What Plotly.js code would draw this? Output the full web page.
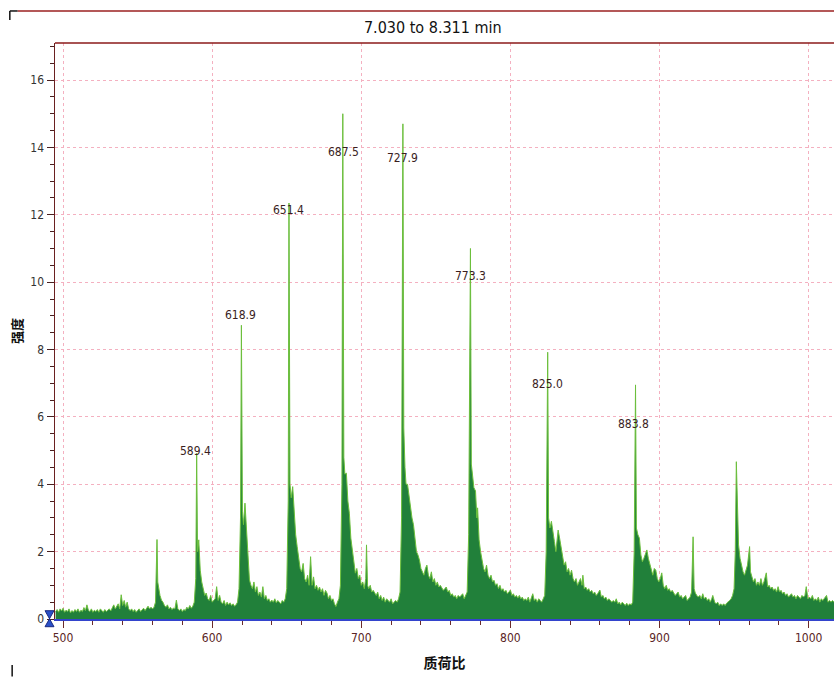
<!DOCTYPE html>
<html>
<head>
<meta charset="utf-8">
<script src="https://cdn.plot.ly/plotly-3.0.1.min.js"></script>
<style>html,body{margin:0;padding:0;background:#fff;}#chart{width:834px;height:677px;}</style>
</head>
<body>
<div id="chart"></div>
<script>
// m/z values (x) and intensities (y), row by row
const mz = [
  495,496,497,498,499,500,501,502,503,504,
  505,506,507,508,509,510,511,512,513,514,
  515,516,517,518,519,520,521,522,523,524,
  525,526,527,528,529,530,531,532,533,534,
  535,536,537,538,539,540,541,542,543,544,
  545,546,547,548,549,550,551,552,553,554,
  555,556,557,558,559,560,561,562,563,563.5,
  564,565,566,567,568,569,570,571,572,573,
  574,575,576,577,578,579,580,581,582,583,
  584,585,586,587,588,589,589.6,590.2,591,592,
  593,594,595,596,597,598,599,600,601,602,
  603,604,605,606,607,608,609,610,611,612,
  613,614,615,616,617,618,619,619.6,620.3,621,
  622,623,624,625,626,627,628,629,630,631,
  632,633,634,635,636,637,638,639,640,641,
  642,643,644,645,646,647,648,649,650,651,
  651.5,652.2,653,654,655,656,657,658,659,660,
  661,662,663,664,665,666,667,668,669,670,
  671,672,673,674,675,676,677,678,679,680,
  681,682,683,684,685,686,687,687.6,688.3,689,
  690,691,692,693,694,695,696,697,698,699,
  700,701,702,703,703.5,704.2,705,706,707,708,
  709,710,711,712,713,714,715,716,717,718,
  719,720,721,722,723,724,725,726,727,727.9,
  728.5,729.3,730,731,732,733,734,735,736,737,
  738,739,740,741,742,743,744,745,746,747,
  748,749,750,751,752,753,754,755,756,757,
  758,759,760,761,762,763,764,765,766,767,
  768,769,770,771,772,773.2,773.8,774.5,775.5,776.6,
  777.5,778,779,780,781,782,783,784,785,786,
  787,788,789,790,791,792,793,794,795,796,
  797,798,799,800,801,802,803,804,805,806,
  807,808,809,810,811,812,813,814,815,816,
  817,818,819,820,821,822,823,824,825,825.6,
  826.5,827.5,828.5,829.5,830.5,831.5,832,833,834,835,
  836,837,838,839,840,841,842,843,844,845,
  846,847,848,848.6,849.5,850.5,851.5,852.5,853.5,854.5,
  855.5,856.5,857.5,858.5,860,861,862,863,864,865,
  866,867,868,869,870,871,872,873,874,875,
  876,877,878,879,880,881,882,883,883.9,884.5,
  885.5,886.5,887.5,888.5,889.5,890.5,891.5,892.5,893.5,894.5,
  895.5,896.5,897.5,898.5,899.5,900.5,901.5,902.5,903.5,904.5,
  905.5,906.5,907.5,908.5,909.5,910.5,911.5,912.5,913.5,914.5,
  915.5,916.5,917.5,918.5,919.5,920.5,921.5,922.5,923.2,924,
  925,926,927,928,929,930,931,932,933,934,
  935,935.7,937,938,939,940,941,942,943,944,
  945,946,947,948,949,950,950.8,951.5,952.2,953,
  954,955,956,957,958,959,960.4,961,962,963,
  964,965,966,967,968,969,970,971.6,972.5,973.5,
  974.5,975.5,976.5,977.5,978.5,979.5,980.5,981.5,982.5,983.5,
  984.5,985.5,986.5,987.5,988.5,989.5,990.5,991.5,992.5,993.5,
  994.5,995.5,996.5,997.5,998.4,999.5,1000.5,1001.5,1002.5,1003.5,
  1004.5,1005.5,1006.5,1007.5,1008.5,1009.5,1010.5,1012,1013,1014,
  1015,1016,1017,1018
];
const intensity = [
  .22,.28,.2,.3,.24,.32,.2,.26,.22,.3,
  .18,.25,.2,.28,.22,.3,.2,.26,.22,.34,
  .25,.42,.26,.22,.3,.2,.26,.22,.28,.2,
  .3,.24,.2,.28,.22,.26,.3,.24,.35,.42,
  .3,.36,.45,.3,.72,.4,.55,.35,.5,.3,
  .25,.3,.22,.28,.2,.25,.3,.22,.28,.32,
  .25,.3,.38,.3,.35,.3,.35,.5,2.36,1.1,
  .96,.7,.56,.5,.4,.35,.42,.3,.35,.28,
  .32,.3,.56,.3,.25,.3,.22,.28,.25,.35,
  .3,.4,.32,.38,.5,1.2,4.92,2.0,2.35,1.45,
  1.1,.9,.7,.77,.6,.55,.7,.5,.55,.6,
  .96,.55,.7,.5,.45,.55,.4,.5,.42,.48,
  .4,.45,.38,.42,.5,.9,3.0,8.72,3.2,2.8,
  3.44,2.6,1.95,1.16,1.0,.9,1.1,.8,.96,.7,
  .8,.65,.96,.6,.7,.55,.6,.5,.56,.5,
  .6,.48,.55,.5,.45,.55,.5,.6,.9,3.5,
  12.35,4.0,3.6,3.93,3.0,2.5,2.15,1.8,1.5,1.4,
  1.65,1.2,1.1,1.3,1.0,1.85,1.0,1.25,.9,1.0,
  .85,.95,.8,.9,.7,.85,.77,.6,.7,.55,
  .6,.45,.37,.5,.6,1.0,4.0,15.0,4.8,4.3,
  4.33,3.5,3.14,2.4,2.0,1.6,1.36,1.5,1.2,1.3,
  1.0,1.1,.9,1.2,2.2,1.0,.9,1.0,.8,.85,
  .77,.7,.8,.6,.7,.55,.65,.5,.6,.56,
  .5,.6,.45,.5,.55,.5,.6,.8,3.0,14.7,
  5.67,4.5,4.0,4.0,3.6,3.2,3.0,2.8,2.3,2.0,
  1.9,1.75,1.5,1.4,1.3,1.5,1.6,1.3,1.2,1.4,
  1.1,1.2,1.0,1.1,.95,1.0,.9,.85,.9,.95,
  .8,.85,.7,.75,.65,.7,.6,.7,.65,.7,
  .75,.6,.7,.8,2.5,11.0,4.6,4.2,3.9,3.8,
  3.0,3.3,2.35,2.0,1.7,1.5,1.4,1.6,1.3,1.2,
  1.3,1.1,1.15,1.0,1.05,.9,1.0,.85,.9,.8,
  .85,.75,.8,.86,.7,.75,.65,.7,.62,.7,
  .6,.65,.55,.6,.55,.65,.5,.6,.75,.55,
  .6,.5,.6,.55,.5,.6,.7,2.0,7.92,3.0,
  2.7,2.9,2.5,2.3,2.0,2.4,2.64,2.4,2.1,1.8,
  1.6,1.7,1.4,1.5,1.3,1.45,1.2,1.1,1.2,1.0,
  1.1,1.2,1.0,1.3,.9,.95,.85,.9,.8,.85,
  .75,.8,.7,.75,.86,.65,.7,.6,.65,.55,
  .6,.55,.5,.55,.5,.6,.45,.5,.42,.5,
  .45,.4,.47,.4,.45,.42,.5,2.0,6.95,2.7,
  2.5,2.4,1.9,1.7,1.8,1.9,2.05,1.8,1.6,1.4,
  1.3,1.5,1.45,1.2,1.1,1.2,1.37,1.0,.9,1.0,
  .85,.9,.8,.85,.77,.7,.75,.8,.65,.7,
  .6,.65,.7,.55,.6,.65,.8,2.44,.9,.77,
  .7,.65,.7,.6,.75,.6,.65,.55,.6,.5,
  .6,.7,.5,.45,.5,.4,.45,.4,.45,.4,
  .47,.5,.55,.6,.7,.9,2.0,4.67,3.0,2.2,
  1.8,1.55,1.4,1.3,1.5,1.6,2.15,1.4,1.25,1.1,
  1.2,1.0,1.1,1.0,1.2,1.0,1.1,1.37,.95,1.0,
  .9,.95,.85,.9,.8,.96,.8,.85,.75,.8,
  .7,.75,.65,.7,.75,.65,.7,.6,.7,.65,
  .6,.7,.65,.7,.96,.6,.65,.6,.7,.55,
  .6,.55,.65,.5,.6,.55,.6,.7,.5,.55,
  .5,.55,.5,.55
];

// labelled peaks
const peakLabels = ['589.4','618.9','651.4','687.5','727.9','773.3','825.0','883.8'];
const labelMz    = [589.1, 619.3, 651.5, 688.3, 727.9, 773.5, 825.1, 882.7];
const labelInt   = [4.98, 9.02, 12.14, 13.86, 13.68, 10.18, 6.97, 5.79];

const xRange = [494.6, 1017];
const yRange = [0, 17.1];
const xTickVals = [500, 600, 700, 800, 900, 1000];
const yTickVals = [0, 2, 4, 6, 8, 10, 12, 14, 16];

const narrow = 'Liberation Sans Narrow, DejaVu Sans Condensed, Arial Narrow, Liberation Sans, sans-serif';
const cjk = 'Noto Sans CJK SC, sans-serif';

const traces = [
  {
    type: 'scatter', mode: 'lines', x: mz, y: intensity,
    fill: 'tozeroy', fillcolor: '#21803a',
    line: {color: '#6cbf3c', width: 1},
    hoverinfo: 'x+y', showlegend: false
  }
];

const annotations = peakLabels.map((t, i) => ({
  x: labelMz[i], y: labelInt[i], xref: 'x', yref: 'y', text: t, showarrow: false,
  font: {family: narrow, size: 12, color: '#3a1e1e'}, xanchor: 'center', yanchor: 'middle'
}));

const layout = {
  width: 834, height: 677,
  margin: {l: 55, r: 0, t: 43, b: 58, pad: 0},
  paper_bgcolor: '#ffffff', plot_bgcolor: '#ffffff',
  title: {
    text: '7.030 to 8.311 min', xref: 'paper', x: 0.485, xanchor: 'center',
    yref: 'container', y: 0.96, yanchor: 'middle',
    font: {family: narrow, size: 16, color: '#111'}
  },
  xaxis: {
    range: xRange, tickvals: xTickVals, ticktext: xTickVals.map(String),
    ticks: 'outside', ticklen: 7, tickwidth: 1, tickcolor: '#6a2a2a',
    minor: {dtick: 20, tick0: 500, ticks: 'outside', ticklen: 4, tickcolor: '#6a2a2a', showgrid: false},
    showline: true, linecolor: '#3344cc', linewidth: 2,
    showgrid: true, gridcolor: '#f4b0c0', gridwidth: 1, griddash: 'dot',
    zeroline: false,
    tickfont: {family: narrow, size: 12, color: '#5a2525'},
    title: {text: '质荷比', font: {family: cjk, size: 14, color: '#111', weight: 'bold'}, standoff: 14}
  },
  yaxis: {
    range: yRange, tickvals: yTickVals, ticktext: yTickVals.map(String),
    ticks: 'outside', ticklen: 7, tickwidth: 1, tickcolor: '#4a2020',
    minor: {dtick: 0.5, tick0: 0, ticks: 'outside', ticklen: 4, tickcolor: '#4a2020', showgrid: false},
    showline: true, linecolor: '#6a2020', linewidth: 1.5,
    showgrid: true, gridcolor: '#f4b0c0', gridwidth: 1, griddash: 'dot',
    zeroline: false,
    tickfont: {family: narrow, size: 12, color: '#333'},
    title: {text: '强度', font: {family: cjk, size: 13, color: '#111', weight: 'bold'}, standoff: 5}
  },
  annotations: annotations,
  shapes: [
    {type: 'line', xref: 'paper', yref: 'paper', x0: 0, x1: 1.01, y0: 1, y1: 1, line: {color: '#8b1a1a', width: 1.5}},
    {type: 'line', xref: 'paper', yref: 'paper', x0: -0.048, x1: 1.01, y0: 1.0556, y1: 1.0556, line: {color: '#9b2020', width: 1.5}},
    {type: 'line', xref: 'paper', yref: 'paper', x0: -0.058, x1: -0.048, y0: 1.0556, y1: 1.0556, line: {color: '#111', width: 1.5}},
    {type: 'line', xref: 'paper', yref: 'paper', x0: -0.058, x1: -0.058, y0: 1.0556, y1: 1.04, line: {color: '#111', width: 1.5}},
    {type: 'line', xref: 'paper', yref: 'paper', x0: -0.055, x1: -0.055, y0: -0.08, y1: -0.1, line: {color: '#111', width: 1.5}},
    // blue hourglass threshold marker at the y-axis origin
    {type: 'path', xref: 'paper', yref: 'paper', layer: 'above',
     path: 'M -0.0128,0.0144 L -0.0013,0.0144 L -0.0128,-0.0134 L -0.0013,-0.0134 Z',
     fillcolor: '#2a50c8', line: {color: '#1a2a80', width: 1}}
  ],
  showlegend: false
};

Plotly.newPlot('chart', traces, layout, {displayModeBar: false, staticPlot: true});
</script>
</body>
</html>
